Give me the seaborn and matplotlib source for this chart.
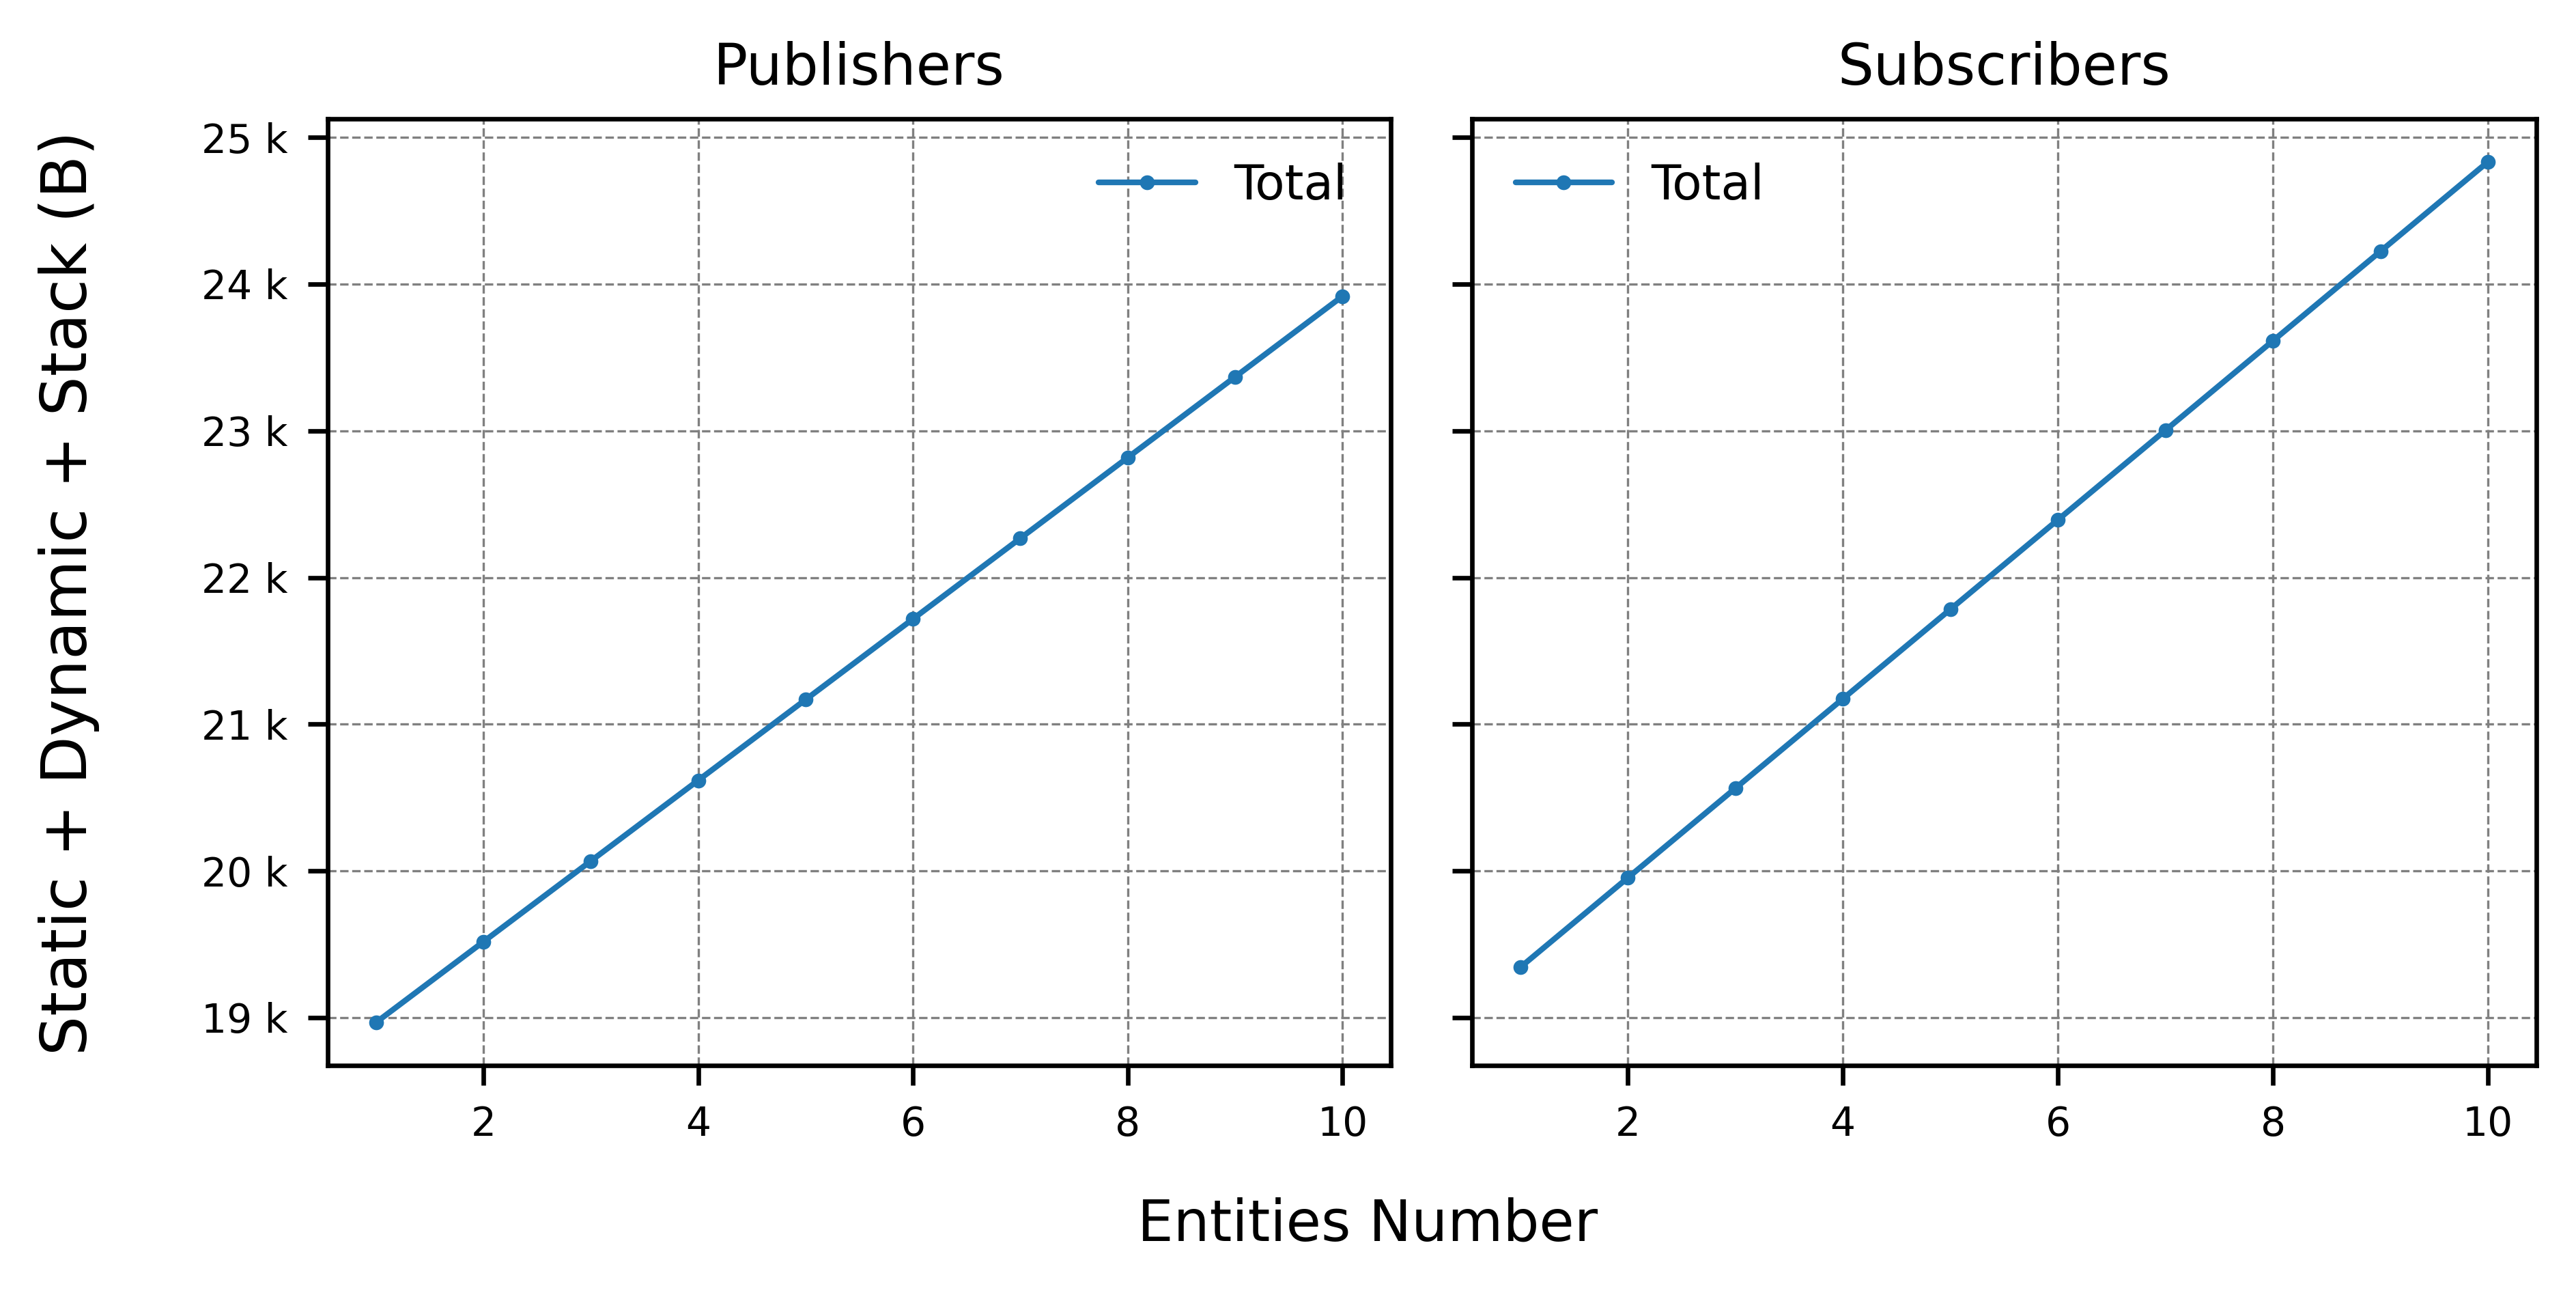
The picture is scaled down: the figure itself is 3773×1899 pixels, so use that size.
import numpy as np
import pandas as pd
import matplotlib
matplotlib.use("Agg")
import matplotlib.pyplot as plt
import seaborn as sns
from matplotlib.ticker import EngFormatter, MultipleLocator

# Data
entities = [1, 2, 3, 4, 5, 6, 7, 8, 9, 10]
publishers_total = [18967, 19517, 20067, 20617, 21167, 21717, 22267, 22817, 23367, 23917]
subscribers_total = [19343, 19953, 20563, 21173, 21783, 22393, 23003, 23613, 24223, 24833]

panels = ["Publishers", "Subscribers"]
legend_locs = ["upper right", "upper left"]

sns.set_style("white")
plt.rcParams["font.family"] = ["DejaVu Sans"]
plt.rcParams["axes.edgecolor"] = "black"
plt.rcParams["text.color"] = "black"
plt.rcParams["xtick.color"] = "black"
plt.rcParams["ytick.color"] = "black"
plt.rcParams["axes.linewidth"] = 0.8

fig = plt.figure(figsize=(3773 / 600, 1899 / 600), dpi=600)
ax1 = fig.add_axes([0.1272, 0.1785, 0.4127, 0.7299])
ax2 = fig.add_axes([0.5714, 0.1785, 0.4132, 0.7299], sharey=ax1)

series = [publishers_total, subscribers_total]
for ax, title, vals, loc in zip([ax1, ax2], panels, series, legend_locs):
    df = pd.DataFrame({"n": entities, "total": vals})
    sns.lineplot(data=df, x="n", y="total", marker="o", markersize=2.6,
                 markeredgewidth=0, linewidth=1.0, color="#1f77b4",
                 label="Total", ax=ax)
    ax.set_title(title, fontsize=10, pad=6)
    ax.set_xlabel("")
    ax.set_ylabel("")
    ax.grid(True, linestyle="--", linewidth=0.4, color="gray")
    ax.tick_params(axis="both", which="both", direction="out", length=3.5,
                   width=0.8, labelsize=7, left=True, bottom=True)
    ax.xaxis.set_major_locator(MultipleLocator(2))
    ax.legend(loc=loc, frameon=False, fontsize=8.5)
    for s in ax.spines.values():
        s.set_visible(True)
        s.set_color("black")
        s.set_linewidth(0.8)

ax1.yaxis.set_major_locator(MultipleLocator(1000))
ax1.yaxis.set_major_formatter(EngFormatter())
plt.setp(ax2.get_yticklabels(), visible=False)

fig.text(0.0268, 0.543, "Static + Dynamic + Stack (B)", rotation=90,
         ha="center", va="center", fontsize=11)
fig.text(0.531, 0.056, "Entities Number", ha="center", va="center", fontsize=10)

fig.savefig("out.png", dpi=600)
